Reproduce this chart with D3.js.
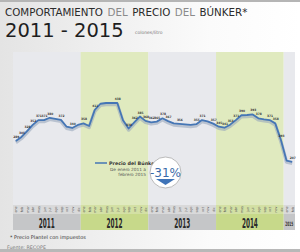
<!DOCTYPE html>
<html>
<head>
<meta charset="utf-8">
<script src="https://cdn.jsdelivr.net/npm/d3@7"></script>
<style>
  body { margin: 0; background: #fff; }
  svg { display: block; }
</style>
</head>
<body>
<div id="chart"></div>
<script>
// monthly price, jan 2011 .. feb 2015 (colones/litro)
var prices = [
  289, 305, 328, 352, 371, 371, 380, 376, 372, 345, 340, 352,   // 2011
  358, 348, 411, 435, 438, 438, 438, 370, 338, 362, 385, 368,   // 2012
  362, 365, 378, 367, 358, 356, 354, 352, 355, 371, 366, 357,   // 2013
  345, 341, 353, 371, 390, 391, 393, 378, 374, 371, 358, 293,   // 2014
  212, 207                                                      // 2015
];
// which months get a value label
var labelled = [0,1,2,3,4,5,6,8,10, 12,14,18,20,21,22,23, 24,25,26,27,29,32,33,35,
  36,37,38,39,40,42,43,45,46,47, 49];
var years = ["2011", "2012", "2013", "2014", "2015"];
var monthsPerYear = [12, 12, 12, 12, 2];
var monthNames = ["ene","feb","mar","abr","may","jun","jul","ago","sep","oct","nov","dic"];
var titleWords = ["COMPORTAMIENTO", "DEL", "PRECIO", "DEL", "BÚNKER*"];

var W = 300, H = 252;
var plot = {left: 13, right: 295, top: 52, bottom: 205};

var svg = d3.select("#chart").append("svg")
  .attr("width", W).attr("height", H)
  .style("font-family", "'DejaVu Sans', sans-serif");

var defs = svg.append("defs");
var grad = defs.append("linearGradient").attr("id", "bg").attr("x1", 0).attr("x2", 1).attr("y1", 0).attr("y2", 0);
grad.append("stop").attr("offset", "0%").attr("stop-color", "#e4e4e4");
grad.append("stop").attr("offset", "70%").attr("stop-color", "#fbfbfb");
grad.append("stop").attr("offset", "100%").attr("stop-color", "#ffffff");

svg.append("rect").attr("width", W).attr("height", H).attr("fill", "url(#bg)");
svg.append("rect").attr("width", W).attr("height", 2).attr("fill", "#b5b5b5");
svg.append("rect").attr("y", H - 3).attr("width", W).attr("height", 3).attr("fill", "#b8b8b8");

// scales
var x = d3.scaleLinear().domain([0, prices.length]).range([plot.left, plot.right]);
var y = d3.scaleLinear().domain([38, 638]).range([plot.bottom, plot.top]);

// year bands
var starts = [0];
monthsPerYear.forEach(function(n, i) { starts.push(starts[i] + n); });
var bands = years.map(function(yr, i) { return {year: yr, start: starts[i], end: starts[i + 1], odd: i % 2 == 1}; });

svg.selectAll(".band").data(bands).enter().append("rect")
  .attr("x", function(d) { return x(d.start); })
  .attr("width", function(d) { return x(d.end) - x(d.start); })
  .attr("y", plot.top).attr("height", plot.bottom - plot.top)
  .attr("fill", function(d) { return d.odd ? "#e0eabf" : "#e8e9ed"; });

// month strip
svg.selectAll(".mstrip").data(bands).enter().append("rect")
  .attr("x", function(d) { return x(d.start); })
  .attr("width", function(d) { return x(d.end) - x(d.start); })
  .attr("y", plot.bottom).attr("height", 9)
  .attr("fill", function(d) { return d.odd ? "#d3e0a4" : "#d9d9da"; });

// year strip
svg.selectAll(".ystrip").data(bands).enter().append("rect")
  .attr("x", function(d) { return x(d.start); })
  .attr("width", function(d) { return x(d.end) - x(d.start); })
  .attr("y", plot.bottom + 9).attr("height", 16)
  .attr("fill", function(d) { return d.odd ? "#c7d98a" : "#c5c6c8"; });

svg.selectAll(".ylab").data(bands).enter().append("text")
  .attr("x", function(d) { return (x(d.start) + x(d.end)) / 2; })
  .attr("y", function(d) { return d.end - d.start < 12 ? plot.bottom + 21 : plot.bottom + 23; })
  .attr("text-anchor", "middle")
  .attr("textLength", function(d) { return d.end - d.start < 12 ? 8 : 16; })
  .attr("lengthAdjust", "spacingAndGlyphs")
  .style("font-family", "'DejaVu Sans Condensed', sans-serif")
  .style("font-weight", "bold")
  .style("font-size", function(d) { return d.end - d.start < 12 ? "6px" : "13.5px"; })
  .attr("fill", "#2a2a2a")
  .text(function(d) { return d.year; });

// month labels via axis
var monthIdx = d3.range(prices.length);
var xAxis = d3.axisBottom(x)
  .tickValues(monthIdx.map(function(i) { return i + 0.5; }))
  .tickSize(0)
  .tickFormat(function(d) { return monthNames[Math.floor(d) % 12]; });
var ax = svg.append("g").attr("transform", "translate(0," + (plot.bottom + 4.5) + ")").call(xAxis);
ax.select(".domain").remove();
ax.selectAll("text")
  .attr("transform", "rotate(-90)")
  .attr("x", 0).attr("y", 0).attr("dy", "0.35em")
  .attr("text-anchor", "middle")
  .style("font-size", "3.3px")
  .style("font-family", "'DejaVu Sans', sans-serif")
  .attr("fill", "#555");

// line
var line = d3.line()
  .x(function(d, i) { return x(i + 0.5); })
  .y(function(d) { return y(d); });

svg.append("path").datum(prices)
  .attr("d", line)
  .attr("transform", "translate(0,1.5)")
  .attr("fill", "none")
  .attr("stroke", "#9aa9bd")
  .attr("stroke-width", 3.5)
  .attr("stroke-opacity", 0.6)
  .attr("stroke-linejoin", "round");

svg.append("path").datum(prices)
  .attr("d", line)
  .attr("fill", "none")
  .attr("stroke", "#4576b5")
  .attr("stroke-width", 1.8)
  .attr("stroke-linejoin", "round");

// value labels
svg.selectAll(".val").data(labelled).enter().append("text")
  .attr("x", function(i) { return x(i + 0.5) + 0.5; })
  .attr("y", function(i) { return y(prices[i]) - 3; })
  .attr("text-anchor", "middle")
  .style("font-family", "'DejaVu Sans Condensed', sans-serif")
  .style("font-size", "3.2px")
  .style("font-weight", "bold")
  .attr("fill", "#333")
  .text(function(i) { return prices[i]; });

// legend
svg.append("line").attr("x1", 95).attr("x2", 107).attr("y1", 163).attr("y2", 163)
  .attr("stroke", "#4576b5").attr("stroke-width", 1.5);
svg.append("text").attr("x", 109).attr("y", 164.8)
  .style("font-size", "4.8px").style("font-weight", "bold").attr("fill", "#333")
  .text("Precio del Búnker");
svg.append("text").attr("x", 146).attr("y", 170.5).attr("text-anchor", "end")
  .style("font-size", "4.3px").attr("fill", "#555").text("De enero 2011 a");
svg.append("text").attr("x", 146).attr("y", 175.5).attr("text-anchor", "end")
  .style("font-size", "4.3px").attr("fill", "#555").text("febrero 2015");

// -31% badge
svg.append("circle").attr("cx", 165.5).attr("cy", 172.5).attr("r", 15.5)
  .attr("fill", "#fff").attr("stroke", "#a9a9a9").attr("stroke-width", 0.8);
svg.append("path").attr("d", "M156,179 L175,179 L165.5,185 Z").attr("fill", "#3f74b8");
svg.append("text").attr("x", 165.5).attr("y", 177).attr("text-anchor", "middle")
  .style("font-size", "12px").attr("fill", "#3a6aa8").text("-31%");

// title, one text per word ("DEL" in grey)
var tx = 5;
titleWords.forEach(function(w) {
  var el = svg.append("text").attr("x", tx).attr("y", 16)
    .style("font-size", "10.3px")
    .attr("fill", w == "DEL" ? "#8a8a8a" : "#2b2b2b")
    .text(w);
  tx += el.node().getComputedTextLength() + 4.5;
});

svg.append("text").attr("x", 5).attr("y", 37).style("font-size", "19.5px").attr("fill", "#1e1e1e")
  .text("2011 - 2015");
svg.append("text").attr("x", 135).attr("y", 34).style("font-size", "4.5px").attr("fill", "#777")
  .text("colones/litro");

// footnotes
svg.append("text").attr("x", 10).attr("y", 239).style("font-size", "5px").attr("fill", "#333")
  .text("* Precio Plantel con impuestos");
svg.append("text").attr("x", 7).attr("y", 249).style("font-size", "4.8px").attr("fill", "#777")
  .text("Fuente: RECOPE");
</script>
</body>
</html>
